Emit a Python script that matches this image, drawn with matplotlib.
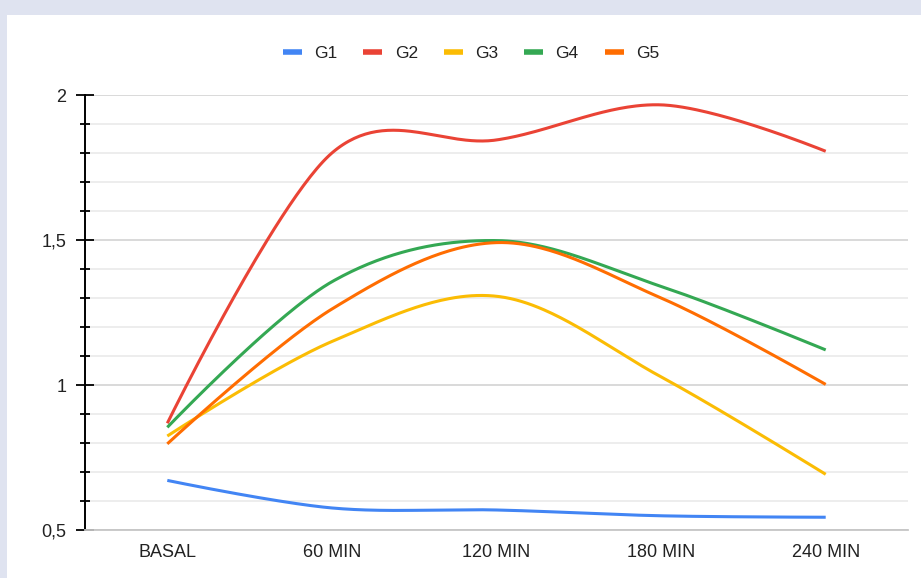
import numpy as np
import matplotlib
matplotlib.use('Agg')
import matplotlib.pyplot as plt
from matplotlib.lines import Line2D
from matplotlib.patches import Rectangle
from matplotlib.ticker import FixedLocator, MultipleLocator, FuncFormatter

plt.rcParams['font.family'] = ['Liberation Sans', 'DejaVu Sans']

# data
categories = ['BASAL', '60 MIN', '120 MIN', '180 MIN', '240 MIN']
g1 = [0.671, 0.576, 0.569, 0.549, 0.544]
g2 = [0.868, 1.800, 1.845, 1.966, 1.806]
g3 = [0.824, 1.150, 1.306, 1.028, 0.692]
g4 = [0.854, 1.356, 1.498, 1.340, 1.121]
g5 = [0.797, 1.262, 1.491, 1.300, 1.002]
series_names = ['G1', 'G2', 'G3', 'G4', 'G5']
series = [g1, g2, g3, g4, g5]
colors = ['#4285f4', '#ea4335', '#fbbc04', '#34a853', '#ff6d01']


def smooth(xs, ys, n=60):
    # catmull-rom style bezier through the points
    p = np.column_stack([np.asarray(xs, float), np.asarray(ys, float)])
    m = len(p)
    before = p.copy()
    after = p.copy()
    for i in range(1, m - 1):
        v = p[i + 1] - p[i - 1]
        before[i] = p[i] - v / 6
        after[i] = p[i] + v / 6
    s = np.linspace(0, 1, n)[:, None]
    out = []
    for i in range(m - 1):
        a, b, c, d = p[i], after[i], before[i + 1], p[i + 1]
        seg = (1 - s) ** 3 * a + 3 * (1 - s) ** 2 * s * b + 3 * (1 - s) * s ** 2 * c + s ** 3 * d
        out.append(seg if i == 0 else seg[1:])
    out = np.vstack(out)
    return out[:, 0], out[:, 1]


fig = plt.figure(figsize=(9.21, 5.78), dpi=100, facecolor='#dfe3f0')
fig.add_artist(Rectangle((7 / 921, 0), 1, 1 - 15 / 578, transform=fig.transFigure,
                         facecolor='white', edgecolor='none', zorder=-10))

ax = fig.add_axes([85 / 921, 48 / 578, (908 - 85) / 921, (530 - 95) / 578])
ax.set_facecolor('none')

x = np.arange(len(categories))
for name, vals, col in zip(series_names, series, colors):
    sx_, sy_ = smooth(x, vals)
    ax.plot(sx_, sy_, color=col, lw=2.2, solid_capstyle='butt', label=name)

ax.set_xlim(-0.5, 4.5)
ax.set_ylim(0.5, 2)

for sp in ['top', 'right']:
    ax.spines[sp].set_visible(False)
ax.spines['left'].set_color('black')
ax.spines['left'].set_linewidth(1.4)
ax.spines['bottom'].set_color('#c6c6c6')
ax.spines['bottom'].set_linewidth(1.3)

ax.yaxis.set_major_locator(FixedLocator([0.5, 1, 1.5, 2]))
ax.yaxis.set_minor_locator(MultipleLocator(0.1))
ax.yaxis.set_major_formatter(FuncFormatter(lambda v, p: ('%g' % v).replace('.', ',')))
ax.tick_params(axis='y', which='major', direction='inout', length=13.5, width=1.3,
               color='black', labelsize=13, labelcolor='#222222', pad=6.5)
ax.tick_params(axis='y', which='minor', direction='inout', length=6.5, width=1.3, color='black')
ax.yaxis.grid(True, which='major', color='#d0d0d0', lw=1.1)
ax.yaxis.grid(True, which='minor', color='#e8e8e8', lw=1.1)
ax.set_axisbelow(True)

ax.set_xticks(x, categories)
ax.tick_params(axis='x', length=0, pad=10, labelsize=13, labelcolor='#222222')

handles = [Line2D([], [], color=c, lw=4, solid_capstyle='butt') for c in colors]
fig.legend(handles, series_names, loc='center', bbox_to_anchor=(471 / 921, 1 - 53 / 578),
           ncol=5, frameon=False, fontsize=12.5, handlelength=1.1, handletextpad=0.7,
           columnspacing=1.5, labelcolor='#222222')

fig.savefig('out.png', dpi=100, facecolor=fig.get_facecolor())
